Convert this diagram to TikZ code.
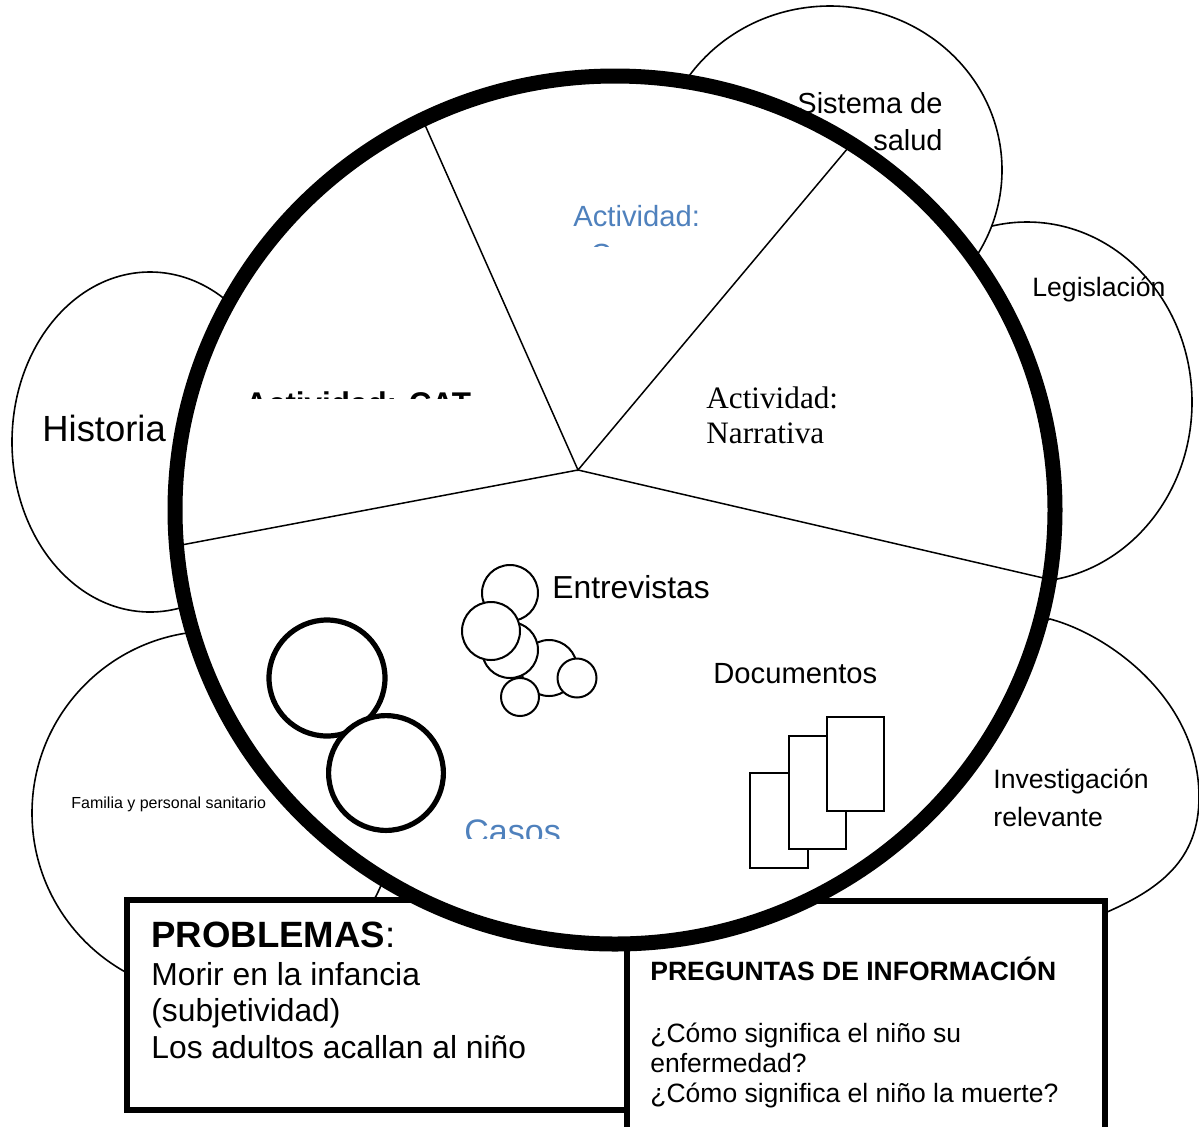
\documentclass[tikz,border=0pt]{standalone}
\usepackage{fontspec}
\setmainfont{Liberation Sans}
\newfontfamily\timesfont{Liberation Serif}
\definecolor{actblue}{RGB}{79,129,189}
\newcommand{\fsz}[1]{\fontsize{#1}{#1}\selectfont}
\begin{document}
\begin{tikzpicture}[x=0.5pt,y=-0.5pt,
  bubble/.style={draw=black,fill=white,line width=0.8pt},
  ringline/.style={draw=black,line width=7.5pt},
  pieline/.style={draw=black,line width=0.75pt},
  thincirc/.style={draw=black,fill=white,line width=1pt},
  thickcirc/.style={draw=black,fill=white,line width=2.6pt},
  docrect/.style={draw=black,fill=white,line width=1pt},
  probox/.style={draw=black,fill=white,line width=3pt},
  lbl/.style={inner sep=0pt,anchor=base west}]
\useasboundingbox (0,0) rectangle (1199,1126);
% outer bubbles
\path[bubble] (420,820) .. controls (390,840) and (370,860) .. (356,900) -- (330,1000) -- (700,1050) -- (900,950) -- (870,900) .. controls (855,885) and (840,875) .. (800,850) -- cycle;
\path[bubble] (214,813) ellipse [x radius=91pt,y radius=91pt];
\path[bubble] (150,442) ellipse [x radius=69pt,y radius=85pt];
\path[bubble] (1027,402) ellipse [x radius=82.5pt,y radius=90pt];
\path[bubble] (830,170) ellipse [x radius=86pt,y radius=82pt];
\path[bubble] (1000,640) -- (1050,619) .. controls (1110,635) and (1199,700) .. (1199,797) .. controls (1199,860) and (1160,890) .. (1100,915) -- (1000,960) -- (780,930) -- (900,700) -- cycle;
% boxes
\path[probox] (127,900) rectangle (627,1110);
\path[probox,line width=2.75pt] (627,901) rectangle (1105,1140);
% main circle
\coordinate (c) at (578,470);
\coordinate (p1) at (421,116);
\coordinate (p2) at (853,142);
\coordinate (p3) at (1052,580);
\coordinate (p4) at (176,546);
\path[fill=white] (615,510) ellipse [x radius=220pt,y radius=217pt];
\draw[pieline] (p1) -- (c) -- (p2);
\draw[pieline] (p3) -- (c) -- (p4);
\path[ringline] (615,510) ellipse [x radius=220pt,y radius=217pt];
% entrevistas circles
\path[thincirc] (510,593) circle [radius=14pt];
\path[thincirc] (549,668) circle [radius=14pt];
\path[thincirc] (510,650) circle [radius=14pt];
\path[thincirc] (491,631) circle [radius=14.5pt];
\path[thincirc] (577,678) circle [radius=9.75pt];
\path[thincirc] (520,697) circle [radius=9.5pt];
% casos circles
\path[thickcirc] (327,678) circle [radius=29pt];
\path[thickcirc] (386,773) circle [radius=28.7pt];
% documents
\path[docrect] (750,773) rectangle (808,868);
\path[docrect] (789,736) rectangle (846,849);
\path[docrect] (827,717) rectangle (884,811);
% texts
\node[lbl,font=\fsz{14.5}] (sis1) at (797,113) {Sistema de};
\node[inner sep=0pt,anchor=base east,font=\fsz{14.5}] (sis2) at (943,150) {salud};
\begin{scope}
\clip (500,150) rectangle (800,246);
\node[lbl,font=\fsz{14.6},text=actblue] (act1) at (573,226) {Actividad:};
\node[lbl,font=\fsz{14.6},text=actblue] (act1b) at (590,264) {C};
\end{scope}
\begin{scope}
\clip (200,380) rectangle (520,398);
\node[lbl,font=\bfseries\fsz{15.7}] (cat) at (245,414) {Actividad: CAT};
\end{scope}
\node[lbl,font=\fsz{18.2}] (hist) at (42,441) {Historia};
\node[lbl,font=\fsz{13.3}] (leg) at (1032,296) {Legislación};
\node[lbl,font=\timesfont\fsz{15.6}] (nar1) at (706,408) {Actividad:};
\node[lbl,font=\timesfont\fsz{15.6}] (nar2) at (706,443) {Narrativa};
\node[lbl,font=\fsz{15.9}] (ent) at (552,598) {Entrevistas};
\node[lbl,font=\fsz{14.6}] (doc) at (713,683) {Documentos};
\node[lbl,font=\fsz{8}] (fam) at (71,808) {Familia y personal sanitario};
\begin{scope}
\clip (440,800) rectangle (600,838);
\node[lbl,font=\fsz{17},text=actblue] (casos) at (464,843) {Casos};
\end{scope}
\node[lbl,font=\fsz{13.3}] (inv1) at (993,788) {Investigación};
\node[lbl,font=\fsz{13.3}] (inv2) at (993,826) {relevante};
\node[lbl,font=\fsz{18.3}] (prob) at (151,947) {\textbf{PROBLEMAS}:};
\node[lbl,font=\fsz{15.9}] (pr1) at (151,985) {Morir en la infancia};
\node[lbl,font=\fsz{15.9}] (pr2) at (151,1021) {(subjetividad)};
\node[lbl,font=\fsz{15.9}] (pr3) at (151,1058) {Los adultos acallan al niño};
\node[lbl,font=\bfseries\fsz{13.25}] (preg) at (650,980) {PREGUNTAS DE INFORMACIÓN};
\node[lbl,font=\fsz{13.25}] (pq1) at (650,1042) {¿Cómo significa el niño su};
\node[lbl,font=\fsz{13.25}] (pq2) at (650,1072) {enfermedad?};
\node[lbl,font=\fsz{13.25}] (pq3) at (650,1102) {¿Cómo significa el niño la muerte?};
\end{tikzpicture}
\end{document}
